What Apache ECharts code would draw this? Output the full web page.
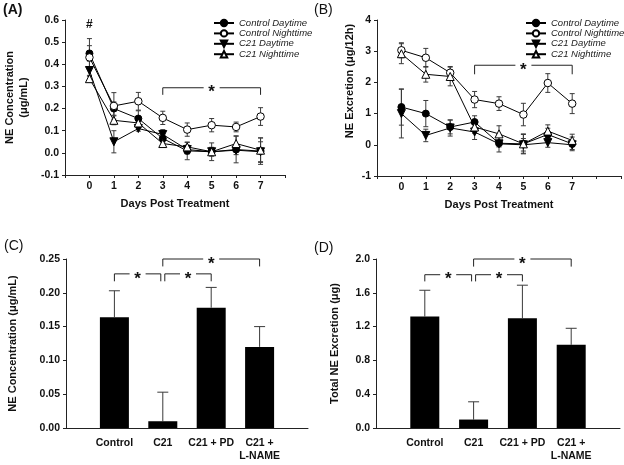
<!DOCTYPE html>
<html><head><meta charset="utf-8">
<script src="https://cdn.jsdelivr.net/npm/echarts@6/dist/echarts.min.js"></script>
<style>html,body{margin:0;padding:0;background:#fff}#c{width:624px;height:465px}</style>
</head><body><div id="c"></div>
<script>
// ---------- data ----------
const days = [0, 1, 2, 3, 4, 5, 6, 7];
const seriesNames = ['Control Daytime', 'Control Nighttime', 'C21 Daytime', 'C21 Nighttime'];

// Panel A: NE concentration (ug/mL)
const ctrlDayA      = [0.449, 0.200, 0.155, 0.065, 0.009, 0.005, 0.015, 0.008];
const ctrlDayAErr   = [0.035, 0.030, 0.035, 0.020, 0.040, 0.040, 0.060, 0.060];
const ctrlNightA    = [0.431, 0.212, 0.233, 0.158, 0.105, 0.125, 0.117, 0.164];
const ctrlNightAErr = [0.085, 0.060, 0.040, 0.030, 0.030, 0.030, 0.022, 0.040];
const c21DayA       = [0.372, 0.050, 0.110, 0.083, 0.015, 0.005, 0.012, 0.005];
const c21DayAErr    = [0.050, 0.050, 0.012, 0.022, 0.020, 0.010, 0.020, 0.045];
const c21NightA     = [0.335, 0.147, 0.135, 0.042, 0.027, 0.005, 0.042, 0.012];
const c21NightAErr  = [0.015, 0.020, 0.020, 0.010, 0.020, 0.020, 0.035, 0.055];

// Panel B: NE excretion (ug/12h)
const ctrlDayB      = [1.21, 1.00, 0.57, 0.73, 0.05, 0.03, 0.33, 0.03];
const ctrlDayBErr   = [0.58, 0.42, 0.22, 0.20, 0.28, 0.30, 0.20, 0.22];
const ctrlNightB    = [3.03, 2.79, 2.31, 1.45, 1.32, 0.97, 1.98, 1.32];
const ctrlNightBErr = [0.24, 0.30, 0.20, 0.26, 0.22, 0.36, 0.30, 0.32];
const c21DayB       = [1.00, 0.30, 0.54, 0.41, 0.03, 0.00, 0.07, 0.00];
const c21DayBErr    = [0.78, 0.20, 0.26, 0.24, 0.10, 0.20, 0.15, 0.15];
const c21NightB     = [2.92, 2.26, 2.19, 0.57, 0.35, 0.03, 0.44, 0.14];
const c21NightBErr  = [0.32, 0.25, 0.30, 0.20, 0.26, 0.32, 0.20, 0.20];

// Panels C & D
const groups   = ['Control', 'C21', 'C21 + PD', 'C21 +\nL-NAME'];
const groupPos = [1, 2, 3, 4];
const concC    = [0.164, 0.010, 0.178, 0.120];
const concCErr = [0.039, 0.043, 0.030, 0.030];
const totalD    = [1.32, 0.10, 1.30, 0.985];
const totalDErr = [0.31, 0.21, 0.39, 0.195];

// significance brackets: [fromX, toX, topValue, tickEndValue]
const bracketsA = [[3, 7, 0.294, 0.262]];
const bracketsB = [[3, 7, 2.55, 2.26]];
const bracketsC = [[1, 2, 0.228, 0.217], [2, 3, 0.228, 0.217], [2, 4, 0.250, 0.239]];
const bracketsD = [[1, 2, 1.814, 1.735], [2, 3, 1.814, 1.735], [2, 4, 2.000, 1.910]];
const hashA = [[0, 0.577]];

// ---------- chart ----------
const FONT = '"Liberation Sans", Arial, Helvetica, sans-serif';
const chart = echarts.init(document.getElementById('c'), null, {renderer: 'canvas'});

const markers = [
  {symbol: 'circle', size: 7, rotate: 0, fill: '#000'},
  {symbol: 'circle', size: 7.5, rotate: 0, fill: '#fff'},
  {symbol: 'triangle', size: 8, rotate: 180, fill: '#000'},
  {symbol: 'triangle', size: 8, rotate: 0, fill: '#fff'}
];

function lineSeries(name, vals, idx, m) {
  return {
    type: 'line', name, xAxisIndex: idx, yAxisIndex: idx,
    data: days.map((d, i) => [d, vals[i]]),
    symbol: m.symbol, symbolSize: m.size, symbolRotate: m.rotate, showAllSymbol: true,
    itemStyle: {color: m.fill, borderColor: '#000', borderWidth: 1},
    lineStyle: {color: '#000', width: 1},
    z: 3, animation: false, emphasis: {disabled: true}
  };
}
function errSeries(xs, vals, errs, idx, capHalf, upOnly) {
  return {
    type: 'custom', xAxisIndex: idx, yAxisIndex: idx, silent: true, animation: false, z: 2,
    data: xs.map((d, i) => [d, vals[i], errs[i]]), encode: {x: 0, y: 1},
    renderItem(params, api) {
      const x = api.value(0), y = api.value(1), e = api.value(2);
      const top = api.coord([x, y + e]);
      const bot = api.coord([x, upOnly ? y : y - e]);
      const st = {stroke: '#3a3a3a', lineWidth: 1};
      const ch = [
        {type: 'line', shape: {x1: top[0], y1: top[1], x2: bot[0], y2: bot[1]}, style: st},
        {type: 'line', shape: {x1: top[0] - capHalf, y1: top[1], x2: top[0] + capHalf, y2: top[1]}, style: st}
      ];
      if (!upOnly) ch.push({type: 'line', shape: {x1: bot[0] - capHalf, y1: bot[1], x2: bot[0] + capHalf, y2: bot[1]}, style: st});
      return {type: 'group', children: ch};
    }
  };
}
function bracketSeries(list, idx, insets) {
  return {
    type: 'custom', xAxisIndex: idx, yAxisIndex: idx, silent: true, animation: false, z: 4,
    data: list, encode: {x: [0, 1], y: [2, 3]},
    renderItem(params, api) {
      const x1 = api.value(0), x2 = api.value(1), yt = api.value(2), yb = api.value(3);
      const a = api.coord([x1, yt]), b = api.coord([x2, yt]), c = api.coord([x1, yb]);
      const ins = (insets && insets[params.dataIndex]) || [0, 0];
      const lx = a[0] + ins[0], rx = b[0] + ins[1], ty = a[1], by = c[1];
      const mid = (lx + rx) / 2, gap = 8;
      const st = {stroke: '#222', lineWidth: 1, fill: null};
      return {type: 'group', children: [
        {type: 'polyline', shape: {points: [[lx, by], [lx, ty], [mid - gap, ty]]}, style: st},
        {type: 'polyline', shape: {points: [[mid + gap, ty], [rx, ty], [rx, by]]}, style: st},
        {type: 'text', style: {text: '*', x: mid, y: ty + 5, textAlign: 'center', textVerticalAlign: 'middle',
          font: 'bold 17px ' + FONT, fill: '#111'}}
      ]};
    }
  };
}
function textSeries(list, idx, txt) {
  return {
    type: 'custom', xAxisIndex: idx, yAxisIndex: idx, silent: true, animation: false, z: 4,
    data: list, encode: {x: 0, y: 1},
    renderItem(params, api) {
      const p = api.coord([api.value(0), api.value(1)]);
      return {type: 'text', style: {text: txt, x: p[0], y: p[1], textAlign: 'center', textVerticalAlign: 'middle',
        font: 'bold 12px ' + FONT, fill: '#111'}};
    }
  };
}

const axisLineStyle = {show: true, onZero: false, lineStyle: {color: '#222', width: 1}};
const tickLabel = {fontFamily: FONT, fontWeight: 'bold', fontSize: 10.5, color: '#111'};
const nameStyle = {fontFamily: FONT, fontWeight: 'bold', fontSize: 11, color: '#111'};

function dayAxis(idx) {
  return {
    gridIndex: idx, type: 'value', min: -1, max: idx === 0 ? 8 : 9, interval: 1,
    axisLine: axisLineStyle, axisTick: {show: true, length: 3, lineStyle: {color: '#222'}},
    axisLabel: Object.assign({}, tickLabel, {margin: 6, formatter: v => (v >= 0 && v <= 7) ? String(v) : ''}),
    splitLine: {show: false},
    name: 'Days Post Treatment', nameLocation: 'middle', nameGap: 23, nameTextStyle: nameStyle
  };
}
function groupAxis(idx) {
  return {
    gridIndex: idx, type: 'value', min: 0, max: 5, interval: 1,
    axisLine: axisLineStyle, axisTick: {show: false},
    axisLabel: Object.assign({}, tickLabel, {margin: 9, lineHeight: 13,
      formatter: v => { const k = groupPos.indexOf(v); return k >= 0 ? groups[k] : ''; }}),
    splitLine: {show: false}
  };
}
function valAxis(idx, min, max, interval, dec, name, gap, extra) {
  return Object.assign({
    gridIndex: idx, type: 'value', min, max, interval,
    axisLine: axisLineStyle, axisTick: {show: true, length: 3, lineStyle: {color: '#222'}},
    axisLabel: Object.assign({}, tickLabel, {margin: 6, formatter: v => v.toFixed(dec)}),
    splitLine: {show: false},
    name, nameLocation: 'middle', nameGap: gap, nameTextStyle: Object.assign({}, nameStyle, {lineHeight: 14})
  }, extra || {});
}

const legendText = {fontFamily: FONT, fontStyle: 'italic', fontSize: 9.5, color: '#222', lineHeight: 10};
function legendAt(left, top) {
  return {data: seriesNames, orient: 'vertical', left, top, itemWidth: 20, itemHeight: 8, itemGap: 0.4,
    selectedMode: false, textStyle: legendText, padding: 0};
}

const series = [];
const setsA = [ctrlDayA, ctrlNightA, c21DayA, c21NightA];
const errsA = [ctrlDayAErr, ctrlNightAErr, c21DayAErr, c21NightAErr];
const setsB = [ctrlDayB, ctrlNightB, c21DayB, c21NightB];
const errsB = [ctrlDayBErr, ctrlNightBErr, c21DayBErr, c21NightBErr];
for (let k = 0; k < 4; k++) {
  series.push(errSeries(days, setsA[k], errsA[k], 0, 2.5, false));
  series.push(lineSeries(seriesNames[k], setsA[k], 0, markers[k]));
}
for (let k = 0; k < 4; k++) {
  series.push(errSeries(days, setsB[k], errsB[k], 1, 2.5, false));
  series.push(lineSeries(seriesNames[k], setsB[k], 1, markers[k]));
}
series.push(bracketSeries(bracketsA, 0));
series.push(bracketSeries(bracketsB, 1));
series.push(textSeries(hashA, 0, '#'));

function barSeries(vals, idx) {
  return {type: 'bar', xAxisIndex: idx, yAxisIndex: idx, barWidth: 29, animation: false, silent: true,
    data: groupPos.map((p, i) => [p, vals[i]]), itemStyle: {color: '#000'}, z: 2};
}
const insetsCD = [[0, -2], [2, 0], [0, 0]];
series.push(barSeries(concC, 2));
series.push(errSeries(groupPos, concC, concCErr, 2, 5.5, true));
series.push(bracketSeries(bracketsC, 2, insetsCD));
series.push(barSeries(totalD, 3));
series.push(errSeries(groupPos, totalD, totalDErr, 3, 5.5, true));
series.push(bracketSeries(bracketsD, 3, insetsCD));

const option = {
  backgroundColor: '#fff',
  animation: false,
  textStyle: {fontFamily: FONT},
  grid: [
    {left: 65, top: 20, width: 220, height: 155},
    {left: 377, top: 20, width: 246, height: 156},
    {left: 66, top: 259, width: 242, height: 169},
    {left: 376, top: 259, width: 244, height: 169}
  ],
  xAxis: [dayAxis(0), dayAxis(1), groupAxis(2), groupAxis(3)],
  yAxis: [
    valAxis(0, -0.1, 0.6, 0.1, 1, 'NE Concentration\n(\u03bcg/mL)', 34),
    valAxis(1, -1, 4, 1, 0, 'NE Excretion (\u03bcg/12h)', 22,
      {nameTextStyle: Object.assign({}, nameStyle, {padding: [0, 0, 0, 34]})}),
    valAxis(2, 0, 0.25, 0.05, 2, 'NE Concentration (\u03bcg/mL)', 8 + 38),
    valAxis(3, 0, 2.0, 0.4, 1, 'Total NE Excretion (\u03bcg)', 34)
  ],
  legend: [legendAt(213, 18), legendAt(525, 18)],
  graphic: [
    {type: 'text', left: 3, top: 3, style: {text: '(A)', font: 'bold 14px ' + FONT, fill: '#111'}},
    {type: 'text', left: 314, top: 3, style: {text: '(B)', font: '14px ' + FONT, fill: '#111'}},
    {type: 'text', left: 4, top: 239, style: {text: '(C)', font: '14px ' + FONT, fill: '#111'}},
    {type: 'text', left: 314, top: 241, style: {text: '(D)', font: '14px ' + FONT, fill: '#111'}}
  ],
  series
};
chart.setOption(option);
</script>
</body></html>
